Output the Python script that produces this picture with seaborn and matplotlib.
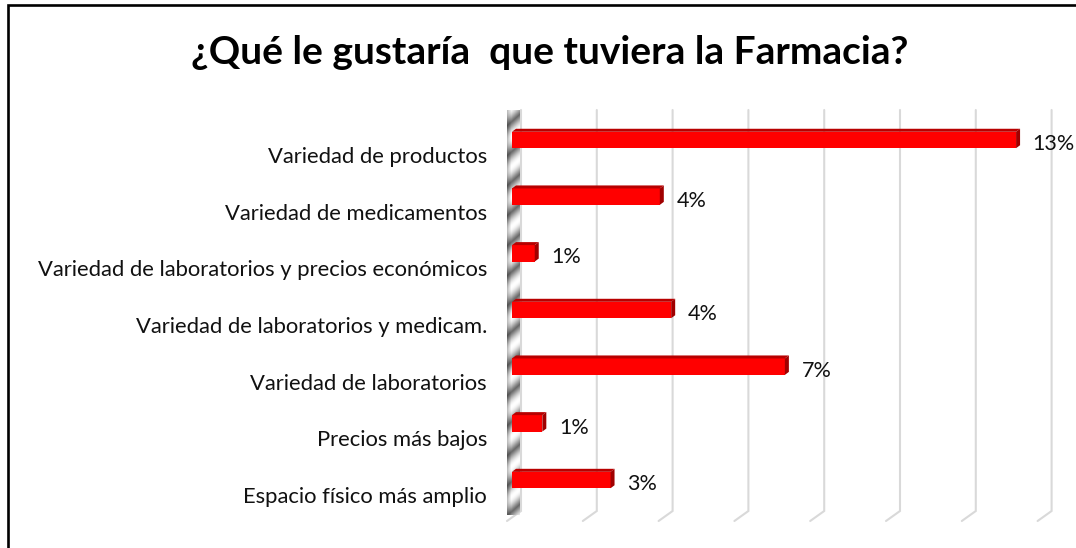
import numpy as np
import pandas as pd
import matplotlib
matplotlib.use("Agg")
import matplotlib.pyplot as plt
from matplotlib.lines import Line2D
from matplotlib.patches import Polygon
from matplotlib.transforms import IdentityTransform, ScaledTranslation
import seaborn as sns

# ---- data -------------------------------------------------------------
title = "¿Qué le gustaría  que tuviera la Farmacia?"
categories = [
    "Variedad de productos",
    "Variedad de medicamentos",
    "Variedad de laboratorios y precios económicos",
    "Variedad de laboratorios y medicam.",
    "Variedad de laboratorios",
    "Precios más bajos",
    "Espacio físico más amplio",
]
percentages = [13.3, 3.9, 0.6, 4.2, 7.2, 0.8, 2.6]
grid_ticks = [0, 2, 4, 6, 8, 10, 12, 14]

# ---- style ------------------------------------------------------------
sns.set_theme(style="white")
plt.rcParams["font.family"] = ["Lato", "DejaVu Sans"]

W, H, DPI = 1076, 548, 100
fig = plt.figure(figsize=(W / DPI, H / DPI), dpi=DPI)
fig.patch.set_facecolor("white")


def px_box(left, top, right, bottom):
    """Axes rectangle given in pixel edges measured from the top-left."""
    return [left / W, 1 - bottom / H, (right - left) / W, (bottom - top) / H]


ax = fig.add_axes(px_box(512, 110, 1042.6, 521))
ax.patch.set_alpha(0)

df = pd.DataFrame({"categoria": categories, "porcentaje": percentages})
sns.barplot(
    data=df, x="porcentaje", y="categoria", orient="h",
    color="#FF0000", saturation=1, width=0.29,
    edgecolor="none", linewidth=0, ax=ax, zorder=3,
)
ax.set_xlim(0, 14)
ax.set_ylim(6.723, -0.529)
ax.set_xlabel("")
ax.set_ylabel("")
ax.set_xticks([])
for side in ax.spines.values():
    side.set_visible(False)

ax.tick_params(axis="y", length=0, pad=18, labelsize=15.8, labelcolor="#111111")
shift_down = ScaledTranslation(0, -0.15, fig.dpi_scale_trans)
for lbl in ax.get_yticklabels():
    lbl.set_transform(lbl.get_transform() + shift_down)

# value labels at the end of each bar
anns = ax.bar_label(ax.containers[0],
                    labels=[f"{v:.0f}%" for v in percentages],
                    padding=12, fontsize=15.5, color="#111111")
for a in anns:
    a.xyann = (12, -3)

# ---- pseudo-3D decoration ---------------------------------------------
ident = IdentityTransform()
to_px = ax.transData.transform

# slanted floor gridlines
y_top, y_back, y_front = H - 110, H - 511, H - 521
for t in grid_ticks:
    xp = to_px((t, 0))[0]
    fig.add_artist(Line2D([xp + 9, xp + 9, xp - 5], [y_top, y_back, y_front],
                          transform=ident, color="#D9D9D9", lw=1.5,
                          solid_joinstyle="miter", zorder=-2))

# shaded vertical wall behind the category axis
wall_h, wall_w = 405, 13
rr, cc = np.mgrid[0:wall_h, 0:wall_w]
phase = (rr + 0.9 * cc) / 30.0
wave = 0.5 + 0.5 * np.cos(2 * np.pi * phase)
shade = 0.42 + 0.58 * wave ** 0.6
edge = np.clip(cc / 4.0, 0, 1)
shade = shade * (0.75 + 0.25 * edge)
rgb = np.dstack([shade, shade, shade])
fig.figimage(rgb, xo=507, yo=H - 515, origin="upper", zorder=-1)

# top and side faces of every bar
dx, dy = 4, 3
for bar in ax.patches:
    x0, y0 = bar.get_x(), bar.get_y()
    pts = to_px([(x0, y0), (x0 + bar.get_width(), y0 + bar.get_height())])
    left, right = sorted(pts[:, 0])
    bottom, top = sorted(pts[:, 1])
    fig.add_artist(Polygon([(left, top), (right, top), (right + dx, top + dy),
                            (left + dx, top + dy)], closed=True,
                           transform=ident, facecolor="#B80000",
                           edgecolor="none", zorder=1))
    fig.add_artist(Polygon([(right, top), (right + dx, top + dy),
                            (right + dx, bottom + dy), (right, bottom)],
                           closed=True, transform=ident, facecolor="#A00000",
                           edgecolor="none", zorder=1))

# ---- title and frame ---------------------------------------------------
fig.text(550 / W, 1 - 52 / H, title, ha="center", va="center",
         fontsize=28, fontweight="bold", color="black")

fig.add_artist(Line2D([7.5 / W, 7.5 / W, 1.0], [0.0, 1 - 4.5 / H, 1 - 4.5 / H],
                      transform=fig.transFigure, color="black", lw=1.9,
                      solid_joinstyle="miter", zorder=5))

fig.savefig("out.png", dpi=DPI)
